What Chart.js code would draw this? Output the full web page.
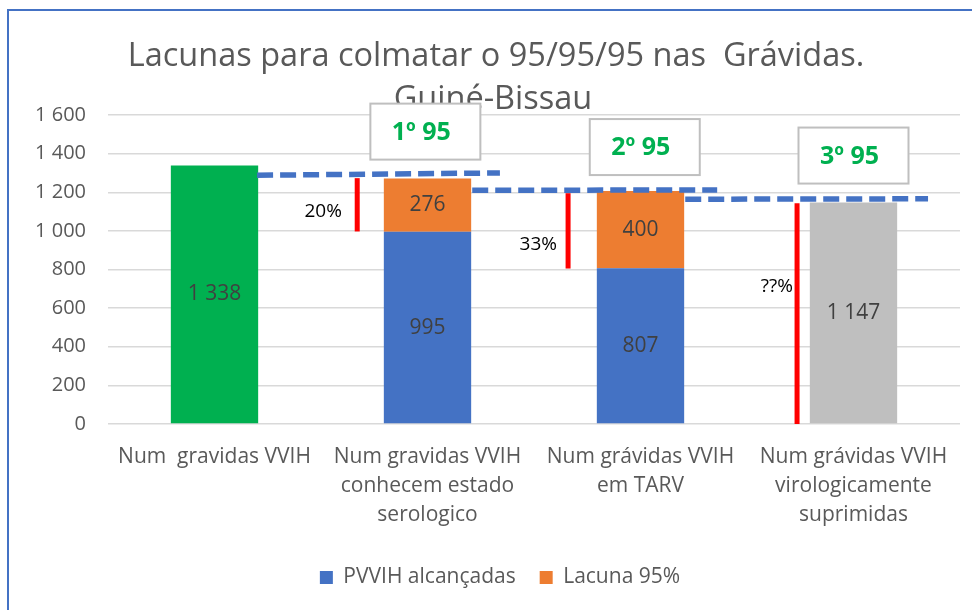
<!DOCTYPE html>
<html>
<head>
<meta charset="utf-8">
<script src="https://cdn.jsdelivr.net/npm/chart.js@4"></script>
<style>
  body { margin: 0; background: #fff; }
  #wrap { width: 972px; height: 610px; }
</style>
</head>
<body>
<div id="wrap"><canvas id="myChart"></canvas></div>
<script>
// Data
const categories = [
  'Num  gravidas VVIH',
  ['Num gravidas VVIH', 'conhecem estado', 'serologico'],
  ['Num grávidas VVIH', 'em TARV'],
  ['Num grávidas VVIH', 'virologicamente', 'suprimidas']
];
const alcancadas = [1338, 995, 807, 1147];
const lacuna = [null, 276, 400, null];
const barColors = ['#00b050', '#4472c4', '#4472c4', '#bfbfbf'];
const legendColors = ['#4472c4', '#ed7d31'];
const titleLines = ['Lacunas para colmatar o 95/95/95 nas  Grávidas.', 'Guiné-Bissau'];

// annotations (x in category units, y in data units)
const gapLinesX = [[0.2, 1.34], [1.21, 2.36], [2.21, 3.35]];
const gapLinesY = [[1288, 1300], [1210, 1212], [1164, 1166]];
const gapBarsX = [0.67, 1.66, 2.735];
const gapBarsY = [[997, 1273], [805, 1195], [0, 1143]];
const gapPct = ['20%', '33%', '??%'];
const gapPctX = [0.51, 1.52, 2.64];
const gapPctY = [1101, 930, 712];
const goalLabels = ['1º 95', '2º 95', '3º 95'];
const goalX = [0.99, 2.02, 3.0];
const goalY = [1514, 1434, 1390];

const FONT = '"Open Sans", Lato, sans-serif';
const fmt = v => String(v).replace(/\B(?=(\d{3})+(?!\d))/g, ' ');

const data = {
  labels: categories,
  datasets: [{
    label: 'PVVIH alcançadas',
    data: alcancadas,
    backgroundColor: barColors,
    categoryPercentage: 1,
    barPercentage: 0.41
  }, {
    label: 'Lacuna 95%',
    data: lacuna,
    backgroundColor: '#ed7d31',
    categoryPercentage: 1,
    barPercentage: 0.41
  }]
};

const extras = {
  id: 'extras',
  afterLayout(chart) {
    // legend sits a bit right of the canvas centre in the original
    chart.legend.left += 15;
    chart.legend.right += 15;
  },
  beforeDraw(chart) {
    const ctx = chart.ctx;
    ctx.save();
    ctx.fillStyle = '#fff';
    ctx.fillRect(0, 0, chart.width, chart.height);
    ctx.strokeStyle = '#4472c4';
    ctx.lineWidth = 2;
    ctx.strokeRect(8, 10, chart.width + 20, chart.height + 20);
    ctx.restore();
  },
  afterDatasetsDraw(chart) {
    const ctx = chart.ctx;
    ctx.save();
    ctx.font = '21px ' + FONT;
    ctx.fillStyle = '#404040';
    ctx.textAlign = 'center';
    ctx.textBaseline = 'middle';
    chart.data.datasets.forEach((ds, i) => {
      chart.getDatasetMeta(i).data.forEach((el, j) => {
        if (ds.data[j] == null) return;
        ctx.fillText(fmt(ds.data[j]), el.x, (el.y + el.base) / 2);
      });
    });
    ctx.restore();
  },
  afterDraw(chart) {
    const ctx = chart.ctx;
    const xs = chart.scales.x, ys = chart.scales.y;
    ctx.save();
    // title
    ctx.fillStyle = '#595959';
    ctx.textAlign = 'center';
    ctx.textBaseline = 'middle';
    ctx.font = '32.5px ' + FONT;
    ctx.fillText(titleLines[0], 496, 57);
    ctx.fillText(titleLines[1], 493, 100);
    // dashed target lines
    ctx.strokeStyle = '#4472c4';
    ctx.lineWidth = 5.5;
    ctx.setLineDash([16, 7]);
    gapLinesX.forEach((xr, i) => {
      ctx.beginPath();
      ctx.moveTo(xs.getPixelForValue(xr[0]), ys.getPixelForValue(gapLinesY[i][0]));
      ctx.lineTo(xs.getPixelForValue(xr[1]), ys.getPixelForValue(gapLinesY[i][1]));
      ctx.stroke();
    });
    ctx.setLineDash([]);
    // red gap bars
    ctx.strokeStyle = '#ff0000';
    ctx.lineWidth = 5;
    gapBarsX.forEach((x, i) => {
      const px = xs.getPixelForValue(x);
      ctx.beginPath();
      ctx.moveTo(px, ys.getPixelForValue(gapBarsY[i][0]));
      ctx.lineTo(px, ys.getPixelForValue(gapBarsY[i][1]));
      ctx.stroke();
    });
    // percentages
    ctx.fillStyle = '#000';
    ctx.font = '19px ' + FONT;
    gapPct.forEach((t, i) => {
      ctx.fillText(t, xs.getPixelForValue(gapPctX[i]), ys.getPixelForValue(gapPctY[i]));
    });
    // goal boxes
    goalLabels.forEach((t, i) => {
      const cx = xs.getPixelForValue(goalX[i]), cy = ys.getPixelForValue(goalY[i]);
      ctx.fillStyle = '#fff';
      ctx.fillRect(cx - 55, cy - 28, 110, 56);
      ctx.strokeStyle = '#bfbfbf';
      ctx.lineWidth = 2;
      ctx.strokeRect(cx - 55, cy - 28, 110, 56);
      ctx.fillStyle = '#00b050';
      ctx.font = 'bold 25px ' + FONT;
      ctx.fillText(t, cx - 4, cy + 1);
    });
    ctx.restore();
  }
};

const chart = new Chart(document.getElementById('myChart'), {
  type: 'bar',
  data: data,
  options: {
    responsive: true,
    maintainAspectRatio: false,
    animation: false,
    layout: { padding: { left: 10, top: 115, right: 12, bottom: 12 } },
    scales: {
      x: {
        stacked: true,
        grid: { display: false },
        border: { display: false },
        ticks: {
          color: '#595959',
          padding: 10,
          maxRotation: 0,
          autoSkip: false,
          font: { family: FONT, size: 21, lineHeight: 1.4 }
        },
        afterFit: scale => { scale.height = 119; }
      },
      y: {
        stacked: true,
        min: 0,
        max: 1600,
        grid: { color: '#d9d9d9', lineWidth: 1.5, drawTicks: false },
        border: { display: false },
        ticks: {
          stepSize: 200,
          color: '#595959',
          padding: 22,
          font: { family: FONT, size: 20 },
          callback: v => fmt(v)
        },
        afterFit: scale => { scale.width = 98; }
      }
    },
    plugins: {
      title: { display: false },
      tooltip: { enabled: false },
      legend: {
        position: 'bottom',
        labels: {
          color: '#595959',
          boxWidth: 13,
          boxHeight: 13,
          padding: 24,
          font: { family: FONT, size: 21 },
          generateLabels: c => c.data.datasets.map((ds, i) => ({
            text: ds.label,
            fillStyle: legendColors[i],
            strokeStyle: legendColors[i],
            lineWidth: 0,
            hidden: false,
            datasetIndex: i,
            fontColor: '#595959'
          }))
        }
      }
    }
  },
  plugins: [extras]
});
</script>
</body>
</html>
